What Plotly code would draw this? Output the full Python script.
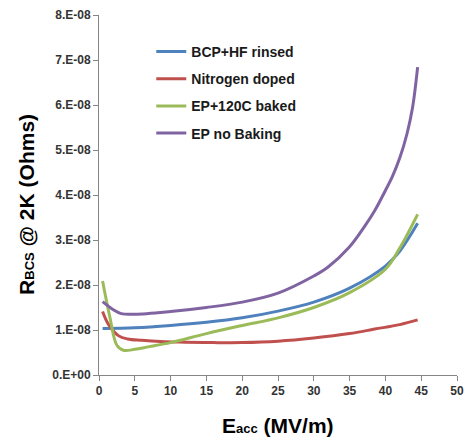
import plotly.graph_objects as go

# ---- data ----
bcp_x = [0.5, 5, 10, 15, 20, 25, 30, 35, 40, 42, 44.5]
bcp_y = [1.035e-8, 1.05e-8, 1.10e-8, 1.17e-8, 1.27e-8, 1.42e-8, 1.62e-8, 1.93e-8, 2.42e-8, 2.75e-8, 3.37e-8]

n2_x = [0.5, 1.3, 2.7, 4, 6, 8.6, 12, 16, 20, 25, 30, 35, 38.5, 42, 44.5]
n2_y = [1.41e-8, 1.13e-8, 0.875e-8, 0.80e-8, 0.77e-8, 0.744e-8, 0.73e-8, 0.72e-8, 0.72e-8, 0.75e-8,
        0.82e-8, 0.92e-8, 1.02e-8, 1.12e-8, 1.225e-8]

ep120_x = [0.5, 1.5, 2.5, 3.4, 5, 7, 10, 15, 20, 25, 30, 35, 40, 42, 44.5]
ep120_y = [2.09e-8, 1.30e-8, 0.66e-8, 0.55e-8, 0.57e-8, 0.63e-8, 0.72e-8, 0.92e-8, 1.10e-8, 1.27e-8,
           1.50e-8, 1.83e-8, 2.35e-8, 2.82e-8, 3.57e-8]

epnb_x = [0.5, 2, 3, 5, 10, 15, 20, 25, 30, 32, 35, 37, 38.5, 40, 41, 42, 43, 43.8, 44.5]
epnb_y = [1.63e-8, 1.45e-8, 1.37e-8, 1.35e-8, 1.41e-8, 1.50e-8, 1.62e-8, 1.82e-8, 2.20e-8, 2.40e-8,
          2.85e-8, 3.28e-8, 3.65e-8, 4.10e-8, 4.42e-8, 4.82e-8, 5.35e-8, 5.95e-8, 6.84e-8]

series_names = ["BCP+HF rinsed", "Nitrogen doped", "EP+120C baked", "EP no Baking"]
series_colors = ["#4F81BD", "#C0504D", "#9BBB59", "#8064A2"]

y_tickvals = [0, 1e-8, 2e-8, 3e-8, 4e-8, 5e-8, 6e-8, 7e-8, 8e-8]
y_ticktext = ["0.E+00", "1.E-08", "2.E-08", "3.E-08", "4.E-08", "5.E-08", "6.E-08", "7.E-08", "8.E-08"]
x_tickvals = [0, 5, 10, 15, 20, 25, 30, 35, 40, 45, 50]

FONT = "Liberation Sans"

fig = go.Figure()
for i, (xs, ys) in enumerate([(bcp_x, bcp_y), (n2_x, n2_y), (ep120_x, ep120_y), (epnb_x, epnb_y)]):
    fig.add_trace(go.Scatter(
        x=xs, y=ys, mode="lines", name=series_names[i],
        line=dict(color=series_colors[i], width=3, shape="spline", smoothing=1.0),
        legendgroup=f"g{i}",
    ))

axis_common = dict(
    showgrid=False, zeroline=False, showline=True, linecolor="#868686", linewidth=1,
    ticks="outside", ticklen=5, tickcolor="#868686",
    tickfont=dict(family=FONT, size=12, color="#333333", weight="bold"),
)

fig.update_layout(
    width=472, height=439,
    margin=dict(l=99, r=8, t=9, b=64),
    paper_bgcolor="white", plot_bgcolor="white",
    font=dict(family=FONT),
    xaxis=dict(range=[0, 50], tickvals=x_tickvals, **axis_common),
    yaxis=dict(range=[0, 8e-8], tickvals=y_tickvals, ticktext=y_ticktext, **axis_common),
    showlegend=True,
    legend=dict(
        x=0.146, y=0.942, xanchor="left", yanchor="top",
        font=dict(family=FONT, size=14, color="#1a1a1a", weight="bold"),
        bgcolor="rgba(0,0,0,0)", tracegroupgap=6,
    ),
    annotations=[
        dict(text="R<span style='font-size:13px'>BCS</span> @ 2K (Ohms)",
             xref="paper", yref="paper", x=-0.2024, y=0.474, textangle=-90,
             showarrow=False, xanchor="center", yanchor="middle",
             font=dict(family=FONT, size=21, color="black", weight="bold")),
        dict(text="E<span style='font-size:13px'>acc</span> (MV/m)",
             xref="paper", yref="paper", x=0.499, y=-0.139,
             showarrow=False, xanchor="center", yanchor="middle",
             font=dict(family=FONT, size=21, color="black", weight="bold")),
    ],
)

fig.write_html("out.html")
